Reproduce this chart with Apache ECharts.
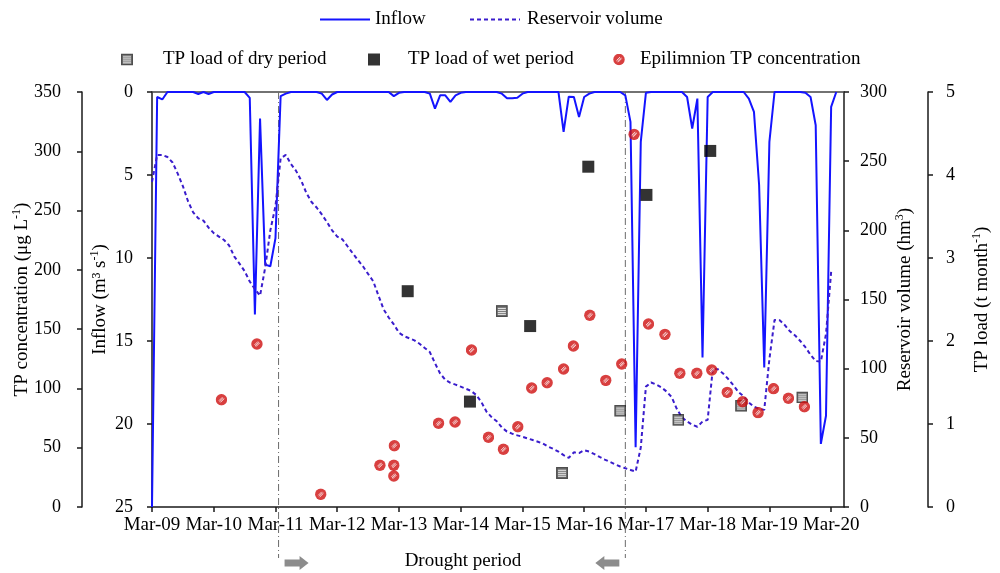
<!DOCTYPE html>
<html><head><meta charset="utf-8">
<script src="https://cdn.jsdelivr.net/npm/echarts@6/dist/echarts.min.js"></script>
<style>html,body{margin:0;padding:0;background:#fff}#c{width:1000px;height:573px}</style>
</head><body><div id="c"></div>
<script>
// ---------- DATA (x = months since Mar 2009) ----------
const tickLabels = ['Mar-09','Mar-10','Mar-11','Mar-12','Mar-13','Mar-14','Mar-15','Mar-16','Mar-17','Mar-18','Mar-19','Mar-20'];
// monthly inflow (m3/s), starting Mar 2009
const inflow = [25,0.3,0.45,0,0,0,0,0,0,0.12,0,0.12,0,0,0,0,0,0,0,0.35,
  13.4,1.6,10.4,10.5,8.8,0.25,0.1,0,0,0,0,0,0,0.1,0.48,0.15,0,0,0,0,
  0,0,0,0,0,0,0,0.25,0.05,0,0,0,0,0,0.1,1.0,0.2,0.2,0.6,0.2,
  0.05,0,0,0,0,0,0,0,0.1,0.38,0.38,0.35,0.1,0,0,0,0,0,0,0,
  2.4,0.28,0.3,1.5,0.3,0.1,0,0,0,0,0,0,0.2,1.8,21.4,3.0,0.05,0,0,0,
  0,0,0,0,0.3,2.2,0.4,16.0,0.3,0,0,0,0,0,0,0,0.4,1.2,5.6,16.6,
  3.0,0,0,0,0,0,0,0.05,0.3,2.0,21.2,19.5,0.9,0];
// monthly reservoir volume (hm3), starting Mar 2009
const volume = [235,254.5,254.5,253,249,241,232,221,213,208.7,207,202,198,195.5,193,189,181,176,170.5,163,
  157.5,152.8,173,200,217.5,252,254.5,248,243,236,227,220.5,216.5,211.5,206,200,195.5,193.5,188.5,183.5,
  178.6,174,168.5,163.2,153,143,137,132,126,123.5,122,120.5,118,115,112,104,96.5,92,89.8,88.5,
  87,85.5,84,81,76,69,65,62,57.5,54.5,53,51.8,50.8,49.6,48.4,47.2,45.8,43.6,42,40,
  37.5,35.5,39.5,39,41,40,38.2,36.2,34.3,32.6,30.8,29.3,28,26.8,25.6,43,87,90,88.5,86.5,
  83.5,79.5,71,64.8,61.8,59.5,58,61.8,63,100,99.5,96.5,92.5,88,83,80,75.5,72.5,71,70.2,
  107,135.2,135,131.5,127,124,120,115.5,110,105.5,105.1,125,170];
// Epilimnion TP concentration (ug/L)
const epiMonth = [13.5,20.4,32.8,44.3,47.0,47.0,47.1,55.7,58.9,62.1,65.4,68.3,71.1,73.8,76.8,80.0,81.9,85.1,88.2,91.3,93.7,96.5,99.7,102.6,105.9,108.8,111.8,114.8,117.8,120.8,123.7,126.8];
const epiConc  = [90.5,137.5,10.7,35.2,35.2,26.1,51.7,70.6,71.7,132.4,58.8,48.7,67.7,100.4,104.8,116.4,135.8,161.7,106.8,120.6,314.3,154.3,145.6,112.8,112.8,115.5,96.7,88.8,79.6,99.8,91.7,84.6];
// TP load (t/month)
const dryMonth = [68.0,79.7,91.0,102.3,114.5,126.4];
const dryLoad  = [2.36,0.41,1.16,1.05,1.22,1.32];
const wetMonth = [49.7,61.8,73.5,84.8,96.1,108.5];
const wetLoad  = [2.60,1.27,2.18,4.10,3.76,4.29];
const droughtBounds = [24.6, 92.0];
const droughtLabel = 'Drought period';

// ---------- STYLE ----------
const FONT = "'Liberation Serif','Times New Roman',serif";
const AX = '#1a1a1a';
const drySvg = "<svg xmlns='http://www.w3.org/2000/svg' width='24' height='24' viewBox='0 0 12 12'><rect x='0.75' y='0.75' width='10.5' height='10.5' fill='#5e5e5e' stroke='#222' stroke-width='1.5'/><path d='M2 3.4h8M2 5.4h8M2 7.4h8M2 9.3h8' stroke='#e8e8e8' stroke-width='0.9'/></svg>";
const epiSvg = "<svg xmlns='http://www.w3.org/2000/svg' width='24' height='24' viewBox='0 0 12 12'><circle cx='6' cy='6' r='5.7' fill='#cf1010'/><path d='M3.5 7.0L7.0 3.5M4.2 8.0L8.0 4.2M5.0 8.7L8.7 5.0' stroke='#ffffff' stroke-width='0.75'/></svg>";
const img = s => 'image://data:image/svg+xml;charset=utf-8,' + encodeURIComponent(s);

function nameRich(){
  return {a:{fontFamily:FONT,fontSize:19,color:'#000',lineHeight:22},
          s:{fontFamily:FONT,fontSize:12,color:'#000',lineHeight:12,verticalAlign:'top'}};
}
function yAx(o){
  return Object.assign({
    type:'value', nameLocation:'middle', nameRotate:90, nameMoveOverlap:false,
    nameTextStyle:{fontFamily:FONT,fontSize:19,color:'#000',rich:nameRich()},
    axisLine:{show:true,onZero:false,lineStyle:{color:AX,width:1.5}},
    axisTick:{show:true,length:5,lineStyle:{color:AX,width:1.5}},
    splitLine:{show:false}
  }, o);
}
const legText = (pad)=>({fontFamily:FONT,fontSize:19,color:'#000',padding:[0,0,0,pad]});

const chart = echarts.init(document.getElementById('c'), null, {renderer:'canvas'});
chart.setOption({
  animation:false,
  backgroundColor:'#fff',
  grid:{left:152,right:156,top:92,bottom:66,containLabel:false,outerBoundsMode:'none'},
  legend:[
    {data:['Inflow'],left:319,top:10,padding:0,itemWidth:50,itemHeight:14,itemStyle:{opacity:0},textStyle:legText(0)},
    {data:['Reservoir volume'],left:469,top:10,padding:0,itemWidth:50,itemHeight:14,itemStyle:{opacity:0},textStyle:legText(2)},
    {data:['TP load of dry period'],left:121,top:50,padding:0,itemWidth:12,itemHeight:13,textStyle:legText(25)},
    {data:['TP load of wet period'],left:368,top:50,padding:0,itemWidth:12,itemHeight:12,textStyle:legText(23)},
    {data:['Epilimnion TP concentration'],left:613,top:50,padding:0,itemWidth:12,itemHeight:12,textStyle:legText(10)}
  ],
  xAxis:[
    {type:'value',min:0,max:134.5,interval:12,position:'bottom',
     axisLine:{onZero:false,lineStyle:{color:AX,width:1.5}},
     axisTick:{length:5,lineStyle:{color:AX,width:1.5}},
     axisLabel:{fontFamily:FONT,fontSize:19,color:'#000',margin:9,
       formatter:v=>tickLabels[Math.round(v/12)]||''},
     splitLine:{show:false}},
    {type:'value',min:0,max:134.5,position:'top',
     axisLine:{show:true,onZero:false,lineStyle:{color:'#444',width:1.5}},
     axisTick:{show:false},axisLabel:{show:false},splitLine:{show:false}}
  ],
  yAxis:[
    yAx({name:'{a|Inflow (m³ s}{s|-1}{a|)}',position:'left',offset:0,min:0,max:25,interval:5,inverse:true,nameGap:41,
         axisLabel:{fontFamily:FONT,fontSize:18,color:'#000',margin:19}}),
    yAx({name:'{a|TP concentration (μg L}{s|-1}{a|)}',position:'left',offset:70,min:0,max:350,interval:50,nameGap:49,
         axisLabel:{fontFamily:FONT,fontSize:18,color:'#000',margin:21}}),
    yAx({name:'{a|Reservoir volume (hm}{s|3}{a|)}',position:'right',offset:0,min:0,max:300,interval:50,nameGap:50,
         axisLabel:{fontFamily:FONT,fontSize:18,color:'#000',margin:16}}),
    yAx({name:'{a|TP load (t month}{s|-1}{a|)}',position:'right',offset:84,min:0,max:5,interval:1,nameGap:43,
         axisLabel:{fontFamily:FONT,fontSize:18,color:'#000',margin:18}})
  ],
  series:[
    {name:'Inflow',type:'line',xAxisIndex:0,yAxisIndex:0,symbol:'none',z:3,
     lineStyle:{color:'#1414ff',width:2},itemStyle:{color:'#1414ff'},
     data:inflow.map((v,i)=>[i,v])},
    {name:'Reservoir volume',type:'line',xAxisIndex:0,yAxisIndex:2,symbol:'none',z:3,
     lineStyle:{color:'#3a1dcc',width:2,type:[4,3]},itemStyle:{color:'#3a1dcc'},
     data:volume.map((v,i)=>[i,v])},
    {name:'TP load of dry period',type:'scatter',xAxisIndex:0,yAxisIndex:3,z:6,
     symbol:img(drySvg),symbolSize:12,data:dryMonth.map((m,i)=>[m,dryLoad[i]])},
    {name:'TP load of wet period',type:'scatter',xAxisIndex:0,yAxisIndex:3,z:6,
     symbol:'rect',symbolSize:12,itemStyle:{color:'#000'},data:wetMonth.map((m,i)=>[m,wetLoad[i]])},
    {name:'Epilimnion TP concentration',type:'scatter',xAxisIndex:0,yAxisIndex:1,z:6,
     symbol:img(epiSvg),symbolSize:12,data:epiMonth.map((m,i)=>[m,epiConc[i]])}
  ]
});

// drought period annotations positioned through the x scale
const xs = droughtBounds.map(v=>chart.convertToPixel({xAxisIndex:0},v));
const yTop = chart.convertToPixel({yAxisIndex:0},0);
const yArrow = 563;
function arrow(x0,dir){ // dir 1 = right, -1 = left; x0 = tail
  const L=24,H=9,s=3.5,h=7;
  const p=[[0,-s],[L-H,-s],[L-H,-h],[L,0],[L-H,h],[L-H,s],[0,s]];
  return {type:'polygon',shape:{points:p.map(q=>[x0+dir*q[0],yArrow+q[1]])},style:{fill:'#8c8c8c'},z:10};
}
chart.setOption({graphic:[
  ...xs.map(x=>({type:'line',shape:{x1:x,y1:yTop,x2:x,y2:558},
    style:{stroke:'#6a6a6a',lineWidth:1,lineDash:[7,3,1,3]},z:1})),
  arrow(xs[0]+6,1),
  arrow(xs[1]-6,-1),
  {type:'text',x:(xs[0]+xs[1])/2+11,y:561,
   style:{text:droughtLabel,fontFamily:FONT,fontSize:19,fill:'#000',textAlign:'center',textVerticalAlign:'middle'},z:10}
]});
</script></body></html>
